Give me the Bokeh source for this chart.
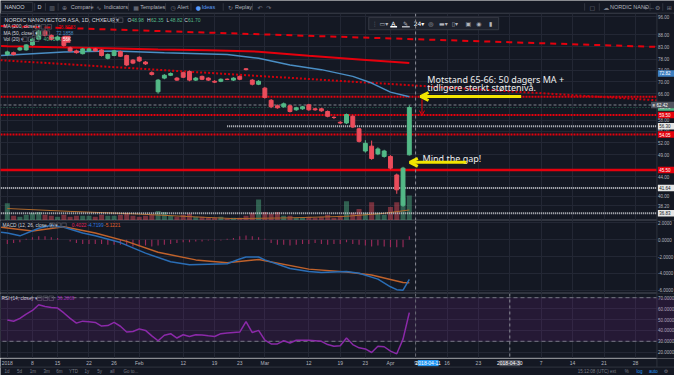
import math
from bokeh.plotting import figure
from bokeh.layouts import column
from bokeh.models import (Range1d, LinearScale, FixedTicker, Span, BoxAnnotation,
                          Arrow, OpenHead, ColumnDataSource)
from bokeh.core.properties import value
from bokeh.embed import file_html
from bokeh.resources import INLINE

# ---------------- data ----------------
OPEN = [79.9, 80.6, 81.7, 81.7, 83.7, 86.1, 89.5, 87.7, 86.0, 87.0,
        82.5, 81.3, 80.2, 81.3, 82.1, 81.7, 78.4, 79.5, 81.0, 79.5,
        77.7, 78.8, 77.0, 73.1, 66.6, 71.2, 72.2, 71.2, 73.1, 73.5,
        70.5, 71.8, 71.2, 70.1, 70.1, 70.8, 70.5, 71.8, 74.5, 70.5,
        69.1, 67.8, 63.9, 62.2, 61.9, 62.2, 61.0, 61.3, 62.5, 61.3,
        61.3, 60.5, 58.8, 57.4, 57.2, 59.1, 55.6, 49.9, 51.1, 49.2,
        48.6, 48.6, 44.4, 38.3, 48.98]
CLOSE = [80.9, 79.9, 82.5, 83.7, 86.1, 89.5, 87.7, 86.0, 87.0, 83.5,
         81.3, 80.6, 82.1, 82.1, 81.3, 79.5, 79.9, 81.3, 79.2, 75.9,
         76.6, 77.4, 76.3, 72.5, 70.5, 72.2, 72.8, 70.5, 71.5, 70.5,
         71.2, 70.8, 70.5, 69.8, 70.8, 70.75, 71.2, 70.8, 74.2, 69.1,
         70.1, 64.8, 61.9, 61.6, 62.8, 60.5, 61.6, 61.9, 61.0, 61.0,
         60.7, 59.1, 58.75, 57.2, 59.6, 56.1, 52.3, 51.8, 48.1, 50.4,
         49.9, 45.9, 41.3, 45.9, 61.70]
HIGH = [81.4, 81.0, 82.9, 84.0, 86.6, 90.0, 90.2, 88.1, 87.6, 87.3,
        83.0, 81.8, 82.5, 82.6, 82.5, 82.0, 80.3, 81.7, 81.4, 79.8,
        78.1, 79.2, 77.4, 73.6, 70.9, 72.6, 73.2, 71.6, 73.5, 73.9,
        71.6, 72.1, 71.5, 70.5, 71.1, 71.1, 71.5, 72.1, 74.8, 70.9,
        70.5, 68.2, 64.3, 62.6, 63.2, 62.5, 61.9, 62.2, 62.8, 61.6,
        61.6, 60.8, 59.1, 57.8, 59.9, 59.4, 55.9, 52.6, 52.5, 50.8,
        50.2, 48.9, 44.7, 46.2, 62.35]
LOW = [79.4, 79.5, 81.3, 81.4, 83.4, 85.8, 87.2, 85.6, 85.5, 83.0,
       81.0, 80.2, 79.9, 81.0, 81.0, 79.1, 78.0, 79.2, 78.9, 75.5,
       76.2, 77.0, 75.9, 72.1, 66.0, 70.8, 71.9, 70.2, 71.2, 70.1,
       70.2, 70.5, 70.2, 69.5, 69.8, 70.5, 70.2, 70.5, 73.9, 68.7,
       68.8, 64.4, 61.5, 61.3, 61.6, 60.2, 60.7, 61.0, 60.7, 60.7,
       60.4, 58.8, 58.3, 56.9, 56.9, 55.8, 52.0, 49.5, 47.8, 48.9,
       48.3, 45.6, 40.5, 38.0, 48.82]
VOLUME_K = [144, 40, 32, 48, 64, 72, 48, 40, 32, 48,
            32, 40, 40, 40, 32, 48, 40, 40, 48, 64,
            40, 32, 40, 48, 80, 72, 40, 32, 48, 56,
            32, 32, 24, 24, 32, 16, 24, 24, 40, 64,
            176, 72, 56, 72, 40, 40, 24, 24, 32, 24,
            32, 48, 24, 40, 160, 64, 96, 64, 152, 64,
            48, 112, 152, 192, 208]
VOL_MA_IDX = [0, 10, 20, 30, 36, 45, 54, 60, 64]
VOL_MA_K = [100, 76, 56, 30, 16, 22, 35, 60, 88]

MA200_IDX = [-1, 0, 8, 16, 24, 32, 40, 48, 56, 64]
MA200 = [83.3, 83.2, 82.8, 82.4, 81.9, 81.6, 81.0, 79.4, 78.0, 76.6]
MA50_IDX = [-1, 4, 9, 17, 25, 35, 40, 45, 50, 55, 58, 61, 64]
MA50 = [79.5, 80.2, 80.9, 81.3, 80.6, 79.9, 78.4, 75.9, 74.2, 71.8, 69.5, 66.5, 65.0]

MACD_IDX = [-1, 0, 2, 5, 7, 9, 12, 14, 18, 22, 26, 29, 35, 37, 38, 40, 41, 45, 48, 50, 54, 56, 59, 61, 62, 63, 64]
MACD = [0.9, 0.8, 0.46, 1.37, 1.71, 1.49, 0.8, 0.46, -0.34, -1.6, -2.63, -2.97, -2.86, -2.29,
        -2.06, -2.06, -2.4, -3.43, -3.77, -3.89, -3.77, -4.0, -4.69, -5.6, -5.94, -6.0, -4.72]
SIGNAL_IDX = [-1, 4, 9, 14, 19, 24, 30, 35, 40, 48, 54, 58, 63, 64]
SIGNAL = [1.49, 1.03, 1.55, 0.8, -0.2, -1.5, -2.4, -2.74, -2.35, -3.5, -3.85, -4.2, -5.1, -5.12]
HIST = [-0.5, -0.4, -0.3, 0.1, 0.3, 0.4, 0.4, 0.3, 0.2, 0.0,
        -0.2, -0.4, -0.5, -0.5, -0.5, -0.5, -0.6, -0.6, -0.6, -0.7,
        -0.8, -0.8, -0.7, -0.8, -0.7, -0.6, -0.5, -0.4, -0.3, -0.3,
        -0.2, -0.2, -0.1, -0.1, -0.1, 0.1, 0.2, 0.4, 0.5, 0.4,
        0.3, 0.1, -0.4, -0.6, -0.6, -0.7, -0.6, -0.5, -0.5, -0.4,
        -0.5, -0.6, -0.5, -0.5, -0.3, -0.5, -0.6, -0.7, -0.8, -0.7,
        -0.8, -0.9, -0.9, -0.9, 0.40]
RSI = [49.5, 48.4, 51, 55, 58.3, 63.5, 62, 61, 60.5, 56,
       51, 46.7, 48.5, 48, 47.3, 44, 44.4, 47.3, 43.8, 38.5,
       39, 41.4, 40, 35, 30.5, 35.6, 37, 33, 36, 34.4,
       36, 35.8, 35, 34.4, 37, 37.5, 38, 38.5, 48, 38,
       40, 31, 27.6, 27.6, 30.5, 28.4, 31, 31, 31, 30.5,
       30, 27, 25.5, 26, 33, 27, 24, 23, 19.7, 25.5,
       25, 21, 18.5, 32, 56.29]

TICK_IDX = [0, 4, 8, 13, 17, 21, 28, 33, 37, 41, 48, 53, 57, 61, 65, 70, 75, 80, 85, 90, 95, 100]
TICK_LABELS = ["2018", "8", "15", "22", "26", "Feb", "12", "19", "23", "Mar", "12", "19", "23",
               "Apr", "9", "16", "23", "30", "7", "14", "21", "28"]
PRICE_TICKS = [96, 88, 83, 78, 74, 70, 66, 58, 55, 52, 49, 44, 40, 38.2]
MACD_TICKS = [2, 0, -2, -4, -6]
RSI_TICKS = [70, 60, 50, 40, 30, 20]

# drawn levels / trend lines / price tags
RED_DOTTED_LEVELS = [65.0, 59.50, 54.05]
RED_SOLID_LEVEL = 45.50
GRAY_LEVEL = 62.42
LAST_CLOSE = 61.70
MA_TAG = 72.82
WHITE_LEVELS = [56.30, 41.64, 36.83]
WHITE_LEVEL_START = [35, -2, -2]
TREND_DASHED = [(-1.09, 91.8), (103.42, 82.9)]
TREND_DOTTED = [(-1.09, 77.7), (103.42, 63.9)]
CURSOR_IDX = 65
CURSOR_DATE_IDX = 67
CURSOR2_IDX = 80

# ---------------- styling helpers ----------------
BG = "#141823"
GRID = "#232734"
SEP = "#30343f"
TXT = "#b2b5be"
GREEN = "#53b987"
RED = "#eb4d5c"
LRED = "#e5000d"
YEL = "#f2e500"
FONT = "Liberation Sans"


def ix(xpx):  # reference pixel -> bar index
    return (xpx - 7) / 6.43


def py(ypx):  # reference pixel -> price (log scale)
    return math.exp((998.8 - ypx) / 215)


def mv(ypx):
    return (252 - ypx) / 8.75


def rv(ypx):
    return 30 + (359 - ypx) / 1.14


XR = Range1d(ix(0), ix(690))
STRIP_L = ix(672)


def base(h, xr, yr, ytype="linear", outline=SEP):
    return figure(width=674, height=h, x_range=xr, y_range=yr, y_axis_type=ytype,
                  title=None, x_axis_location=None, y_axis_location=None,
                  output_backend="svg", toolbar_location=None, min_border=0,
                  background_fill_color=BG, border_fill_color=BG,
                  outline_line_color=outline)


def chart(h, yr, ytype, ticks):
    p = base(h, XR, yr, ytype)
    p.ygrid.ticker = FixedTicker(ticks=ticks)
    p.ygrid.grid_line_color = GRID
    p.xgrid.ticker = FixedTicker(ticks=TICK_IDX)
    p.xgrid.grid_line_color = GRID
    return p


def price_axis(p, ticks, fmt, lo, hi):
    p.quad(left=[STRIP_L], right=[ix(700)], bottom=[lo], top=[hi], fill_color=BG,
           line_color=None)
    p.segment(x0=[STRIP_L], y0=[lo], x1=[STRIP_L], y1=[hi], line_color=SEP, line_width=1)
    p.text(x=[ix(673)] * len(ticks), y=ticks, text=[fmt % t for t in ticks],
           text_font=value(FONT), text_font_size="4.5px", text_color=TXT,
           text_baseline="middle", text_align="left")


def tag(p, v, s, bg, fg, left=673):
    p.rect(x=[(ix(left) + ix(690)) / 2], y=[v], width=ix(690) - ix(left), height=6.5,
           height_units="screen", fill_color=bg, line_color=None)
    p.text(x=[ix(left + 1.5)], y=[v], text=[s], text_font=value(FONT),
           text_font_size="4.5px", text_color=fg, text_baseline="middle", text_align="left")


def txt(p, x, y, s, color=TXT, size="5px", font=FONT, align="left"):
    p.text(x=[x], y=[y], text=[s], text_color=color, text_font_size=size,
           text_font=value(font), text_baseline="middle", text_align=align)


def boxes(p, xs, y):
    p.scatter(x=[ix(v) for v in xs], y=[y] * len(xs), marker="square", size=4.5,
              fill_color=None, line_color="#50535e", line_width=0.8)


# ---------------- toolbar ----------------
tb = base(13, Range1d(0, 690), Range1d(14, 0), outline=None)
tb.grid.visible = False
tb.segment(x0=[0], y0=[13.6], x1=[690], y1=[13.6], line_color=SEP, line_width=1)
tb.quad(left=[1], right=[33], top=[2], bottom=[12], fill_color=BG, line_color=SEP)
for xs in [35, 46, 59, 93, 131, 169, 195, 228, 258, 598, 613, 665, 678]:
    tb.segment(x0=[xs], y0=[3], x1=[xs], y1=[11], line_color=SEP, line_width=1)
TB_ITEMS = [(4, "NANOO", "#d1d4dc"), (38, "D", "#d1d4dc"), (72, "Compare", TXT),
            (106, "Indicators", TXT), (143, "Templates", TXT), (181, "Alert", TXT),
            (206, "Ideas", "#5b9cf6"), (240, "Replay", TXT), (624, "NORDIC NANO...", TXT)]
for x, s, c in TB_ITEMS:
    txt(tb, x, 7, s, c, "5.5px")
TB_ICONS = [(50, "▥"), (63, "⊕"), (98, "∿"), (136, "▦"), (174, "◷"), (200, "●"),
            (233, "↻"), (263, "↶"), (272, "↷"), (603, "▢"), (617, "☁"), (659, "▾"),
            (670, "⚙"), (682, "⊞")]
for x, s in TB_ICONS:
    txt(tb, x, 7, s, "#5b9cf6" if s == "●" else "#787b86", "6px", "DejaVu Sans")

# ---------------- main price panel ----------------
main = chart(207, Range1d(py(231), py(14)), "log", PRICE_TICKS)
main.extra_y_ranges = {"vol": Range1d(0, 216 * 8)}
main.extra_y_scales = {"vol": LinearScale()}

idx = list(range(len(OPEN)))
colors = [GREEN if c >= o else RED for o, c in zip(OPEN, CLOSE)]
src = ColumnDataSource(dict(x=idx, o=OPEN, c=CLOSE, h=HIGH, l=LOW,
                            top=[max(o, c) for o, c in zip(OPEN, CLOSE)],
                            bot=[min(o, c) for o, c in zip(OPEN, CLOSE)],
                            col=colors, vol=VOLUME_K))

main.vbar(x="x", width=0.8, top="vol", bottom=0, source=src, y_range_name="vol",
          fill_color="col", fill_alpha=0.45, line_color=None)
main.line(VOL_MA_IDX, VOL_MA_K, y_range_name="vol", line_color="#b06a2c", line_width=1)

for lv in RED_DOTTED_LEVELS:
    main.segment(x0=[-3], y0=[lv], x1=[110], y1=[lv], line_color=LRED, line_width=2,
                 line_dash="2 1")
main.segment(x0=[-3], y0=[RED_SOLID_LEVEL], x1=[110], y1=[RED_SOLID_LEVEL],
             line_color=LRED, line_width=2.5)
main.segment(x0=[-3], y0=[GRAY_LEVEL], x1=[110], y1=[GRAY_LEVEL], line_color="#5d606b",
             line_width=1.5, line_dash="3 2")
main.segment(x0=[-3], y0=[LAST_CLOSE], x1=[110], y1=[LAST_CLOSE], line_color="#2d6e58",
             line_width=1, line_dash="1 2")
for lv, st in zip(WHITE_LEVELS, WHITE_LEVEL_START):
    main.segment(x0=[st], y0=[lv], x1=[110], y1=[lv], line_color="#c9cbd1", line_width=2,
                 line_dash="1 1")
main.segment(x0=[TREND_DASHED[0][0]], y0=[TREND_DASHED[0][1]], x1=[TREND_DASHED[1][0]],
             y1=[TREND_DASHED[1][1]], line_color=LRED, line_width=2, line_dash="6 5")
main.segment(x0=[TREND_DOTTED[0][0]], y0=[TREND_DOTTED[0][1]], x1=[TREND_DOTTED[1][0]],
             y1=[TREND_DOTTED[1][1]], line_color="#d0000b", line_width=2, line_dash="2 2")

main.line(MA200_IDX, MA200, line_color=LRED, line_width=2)
main.line(MA50_IDX, MA50, line_color="#4a8ec4", line_width=1.5)

main.segment(x0="x", y0="h", x1="x", y1="l", line_color="col", line_width=1, source=src)
main.vbar(x="x", width=0.62, top="top", bottom="bot", fill_color="col", line_color="col",
          source=src)

main.add_layout(Span(location=CURSOR_IDX, dimension="height", line_color="#8a8d96",
                     line_dash="3 3", line_width=1))

# legend rows
txt(main, ix(4), py(21), "NORDIC NANOVECTOR ASA, 1D, CHXEUR ▾", "#d1d4dc", "5.5px")
boxes(main, [117, 123], py(21))
for x, k, vx, v in [(130, "O", 134, "48.98"), (150, "H", 154, "62.35"),
                    (170, "L", 173.5, "48.82"), (188, "C", 192, "61.70")]:
    txt(main, ix(x), py(21), k, "#d1d4dc", "5px")
    txt(main, ix(vx), py(21), v, GREEN, "5px")
txt(main, ix(3), py(28), "MA (200, close) ▾", "#d1d4dc", "4.8px")
boxes(main, [38, 44, 50], py(28))
txt(main, ix(59), py(28), "76.8083", LRED, "4.8px")
txt(main, ix(3), py(34.5), "MA (50, close) ▾", "#d1d4dc", "4.8px")
boxes(main, [36, 42, 48], py(34.5))
txt(main, ix(57), py(34.5), "72.1858", "#4a8ec4", "4.8px")
txt(main, ix(3), py(41), "Vol (20) ▾", "#d1d4dc", "4.8px")
boxes(main, [25, 31, 37], py(41))
txt(main, ix(44), py(41), "40.759K", GREEN, "4.8px")
main.scatter(x=[ix(68)], y=[py(41)], marker="square", size=7, fill_color=RED, line_color=None)
txt(main, ix(68), py(41), "56K", "#ffffff", "4.5px", align="center")

# floating drawing toolbar
main.quad(left=[ix(377)], right=[ix(510)], top=[py(18)], bottom=[py(31)],
          fill_color="#1e222d", line_color="#363a45")
for x, s, c in [(380, "⋮", "#787b86"), (388, "▭▾", TXT), (400, "A", "#ffffff"),
                (412, "✎", TXT), (423, "24▾", "#ffffff"), (438, "◎", TXT),
                (449, "▬▾", TXT), (462, "▯▾", TXT), (476, "▣", TXT), (487, "◉", TXT),
                (500, "▮", TXT)]:
    txt(main, ix(x), py(24), s, c, "6px", "DejaVu Sans")
main.segment(x0=[ix(399)], y0=[py(28)], x1=[ix(406)], y1=[py(28)], line_color="#ffffff",
             line_width=1.5)
main.segment(x0=[ix(411)], y0=[py(28)], x1=[ix(419)], y1=[py(28)], line_color=TXT,
             line_width=1.5)

# annotations
main.add_layout(Arrow(end=OpenHead(size=8, line_color=YEL, line_width=3),
                      x_start=ix(533), y_start=py(101), x_end=ix(430), y_end=py(101),
                      line_color=YEL, line_width=3))
main.add_layout(Arrow(end=OpenHead(size=5, line_color=LRED, line_width=1),
                      x_start=ix(431.5), y_start=py(104), x_end=ix(431.5), y_end=py(121),
                      line_color=LRED, line_width=1))
main.add_layout(Arrow(end=OpenHead(size=8, line_color=YEL, line_width=3),
                      x_start=ix(477), y_start=py(170), x_end=ix(419), y_end=py(170),
                      line_color=YEL, line_width=3))
txt(main, ix(437), py(83), "Motstand 65-66: 50 dagers MA +", "#eeeeee", "9px", "Noto Sans")
txt(main, ix(437), py(92), "tidligere sterkt støttenivå.", "#eeeeee", "9px", "Noto Sans")
txt(main, ix(432), py(166), "Mind the gap!", "#eeeeee", "9px", "Noto Sans")

# price axis (right strip) and tags
price_axis(main, PRICE_TICKS, "%.2f", 1, 1000)
tag(main, MA_TAG, "72.82", "#3d7fc1", "#ffffff")
tag(main, LAST_CLOSE, "61.70", GREEN, "#ffffff")
tag(main, GRAY_LEVEL, "≡ 62.42", "#50535e", "#ffffff", left=666)
for lv in RED_DOTTED_LEVELS[1:] + [RED_SOLID_LEVEL]:
    tag(main, lv, "%.2f" % lv, LRED, "#ffffff")
for lv in WHITE_LEVELS:
    tag(main, lv, "%.2f" % lv, "#e6e6e6", "#131722")

# ---------------- MACD panel ----------------
macd = chart(73, Range1d(mv(308), mv(232)), "linear", MACD_TICKS)
macd.vbar(x=idx, width=0.18, top=HIST, bottom=0, fill_color="#9a2a5a", line_color=None)
macd.line(SIGNAL_IDX, SIGNAL, line_color="#c0622b", line_width=1.5)
macd.line(MACD_IDX, MACD, line_color="#2a6db5", line_width=1.5)
macd.add_layout(Span(location=CURSOR_IDX, dimension="height", line_color="#8a8d96",
                     line_dash="3 3", line_width=1))
txt(macd, ix(2), mv(237), "MACD (12, 26, close, 9) ▾", "#d1d4dc", "4.8px")
boxes(macd, [53, 59, 65], mv(237))
txt(macd, ix(73), mv(237), "0.4022", "#e0245e", "4.8px")
txt(macd, ix(89), mv(237), "-4.7199", "#2f7de1", "4.8px")
txt(macd, ix(106), mv(237), "-5.1221", "#e0602b", "4.8px")
price_axis(macd, MACD_TICKS, "%.4f", -20, 20)

# ---------------- RSI panel ----------------
rsi = chart(65, Range1d(rv(377), rv(309)), "linear", RSI_TICKS)
rsi.add_layout(BoxAnnotation(bottom=30, top=70, fill_color="#9c27b0", fill_alpha=0.13,
                             line_color=None))
for lv in [70, 30]:
    rsi.segment(x0=[-3], y0=[lv], x1=[110], y1=[lv], line_color="#787b86", line_width=1,
                line_dash="4 3")
rsi.line(idx, RSI, line_color="#8a2aa8", line_width=1.5)
rsi.add_layout(Span(location=CURSOR_IDX, dimension="height", line_color="#6a6d76",
                    line_dash="3 3", line_width=1))
rsi.add_layout(Span(location=CURSOR2_IDX, dimension="height", line_color="#8a8d96",
                    line_dash="3 3", line_width=1))
txt(rsi, ix(1), rv(314), "RSI (14, close) ▾", "#d1d4dc", "4.8px")
boxes(rsi, [40, 46, 52], rv(314))
txt(rsi, ix(58), rv(314), "56.2869", "#9c27b0", "4.8px")
price_axis(rsi, RSI_TICKS, "%.4f", 0, 100)

# ---------------- time axis + bottom bar (one strip, y in reference pixels) ----------------
bot = base(17, XR, Range1d(392.5, 376.5), outline=None)
bot.grid.visible = False
bot.text(x=TICK_IDX, y=[380.8] * len(TICK_IDX), text=TICK_LABELS, text_font=value(FONT),
         text_font_size="5px", text_color=TXT, text_baseline="middle", text_align="center")
for xi, s, bg in [(CURSOR_DATE_IDX, "2018-04-11", "#2196f3"),
                  (CURSOR2_IDX, "2018-04-30", "#4a4e59")]:
    bot.rect(x=[xi], y=[380.8], width=3.3, height=6, fill_color=bg, line_color=None)
    bot.text(x=[xi], y=[380.8], text=[s], text_font=value(FONT), text_font_size="5px",
             text_color="#ffffff", text_baseline="middle", text_align="center")
bot.quad(left=[STRIP_L], right=[ix(700)], bottom=[376], top=[384.5], fill_color=BG,
         line_color=None)
bot.segment(x0=[STRIP_L], y0=[376], x1=[STRIP_L], y1=[384.5], line_color=SEP, line_width=1)
bot.segment(x0=[ix(-5)], y0=[384.6], x1=[ix(700)], y1=[384.6], line_color=SEP, line_width=1)
for x, s in [(4, "1d"), (17, "5d"), (30, "1m"), (44, "3m"), (57, "6m"), (70, "YTD"),
             (86, "1y"), (99, "5y"), (112, "all"), (126, "Go to...")]:
    txt(bot, ix(x), 388.3, s, "#787b86", "4.5px")
for x, s, c in [(591, "15:12:08 (UTC)", "#787b86"), (624, "ext", "#787b86"),
                (639, "%", "#787b86"), (651, "log", "#2196f3"), (664, "auto", "#2196f3")]:
    txt(bot, ix(x), 388.3, s, c, "4.5px")
txt(bot, ix(679), 388.3, "⚙", "#787b86", "5px", "DejaVu Sans")

layout = column(tb, main, macd, rsi, bot, spacing=0)
open("out.html", "w").write(file_html(layout, INLINE))
